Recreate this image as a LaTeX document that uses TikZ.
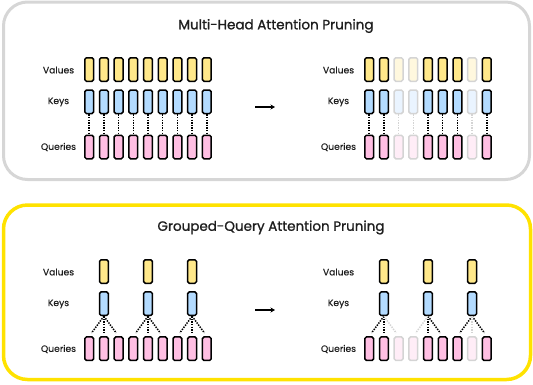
\documentclass[tikz,border=0pt]{standalone}
\usepackage{fontspec}
\setmainfont{Poppins}
\newfontfamily\ttlfont{Poppins}[FakeBold=1.2]
\newfontfamily\lblfont{Poppins}[FakeBold=0.4]
\usetikzlibrary{arrows.meta}
\definecolor{vfill}{HTML}{FFE88A}
\definecolor{kfill}{HTML}{B3DBFF}
\definecolor{qfill}{HTML}{FFBFE3}
\definecolor{vfade}{HTML}{FFF8DE}
\definecolor{kfade}{HTML}{EAF4FF}
\definecolor{qfade}{HTML}{FFEDF7}
\definecolor{fadeline}{HTML}{D4D4D4}
\definecolor{framegray}{HTML}{D6D6D6}
\definecolor{frameyellow}{HTML}{FFE200}
\definecolor{txt}{HTML}{1E1E1E}
\begin{document}
\begin{tikzpicture}[x=1pt,y=-1pt,
  cell/.style={draw=black, line width=1.5pt, rounded corners=1.6pt, minimum width=8.8pt, minimum height=23.5pt, inner sep=0pt},
  vcell/.style={cell, fill=vfill},
  kcell/.style={cell, fill=kfill},
  qcell/.style={cell, fill=qfill},
  vfaded/.style={cell, draw=fadeline, fill=vfade},
  kfaded/.style={cell, draw=fadeline, fill=kfade},
  qfaded/.style={cell, draw=fadeline, fill=qfade},
  dotline/.style={line width=1.5pt, dash pattern=on 1.4pt off 1.2pt, draw=black},
  dotfade/.style={dotline, draw=fadeline},
  lbl/.style={font=\lblfont\fontsize{9.2}{11}\selectfont, text=txt},
  ttl/.style={font=\ttlfont\fontsize{13.5}{16}\selectfont, text=txt},
  arr/.style={-{Stealth[length=4.5pt,width=5pt]}, line width=1.8pt}
]
\useasboundingbox (0,0) rectangle (533,384);
% frames
\draw[framegray, line width=3pt, rounded corners=24pt] (3.5,2) rectangle (529.5,179.5);
\draw[frameyellow, line width=3.5pt, rounded corners=24pt] (3.5,205) rectangle (530.5,379.5);
% titles
\node[ttl] (title1) at (276,26) {Multi-Head Attention Pruning};
\node[ttl] (title2) at (271,227.5) {Grouped-Query Attention Pruning};

% ---------- top left ----------
\node[lbl] (lv1) at (58.5,70) {Values};
\node[lbl] (lk1) at (58.5,102) {Keys};
\node[lbl] (lq1) at (58.5,147) {Queries};
\foreach \i in {0,...,8}{
  \node[vcell] (av\i) at ({89.2+14.7*\i},69.5) {};
  \node[kcell] (ak\i) at ({89.2+14.7*\i},101.8) {};
  \node[qcell] (aq\i) at ({89.2+14.7*\i},147) {};
  \draw[dotline] (ak\i.south) -- (aq\i.north);
}
\coordinate (ta1) at (255,107);
\coordinate (ta2) at (275,107);
\draw[arr] (ta1) -- (ta2);

% ---------- top right ----------
\node[lbl] (lv2) at (338.5,70) {Values};
\node[lbl] (lk2) at (338.5,102) {Keys};
\node[lbl] (lq2) at (338.5,147) {Queries};
\foreach \i in {0,1,4,5,6,8}{
  \node[vcell] (bv\i) at ({369.2+14.7*\i},69.5) {};
  \node[kcell] (bk\i) at ({369.2+14.7*\i},101.8) {};
  \node[qcell] (bq\i) at ({369.2+14.7*\i},147) {};
  \draw[dotline] (bk\i.south) -- (bq\i.north);
}
\foreach \i in {2,3,7}{
  \node[vfaded] (bv\i) at ({369.2+14.7*\i},69.5) {};
  \node[kfaded] (bk\i) at ({369.2+14.7*\i},101.8) {};
  \node[qfaded] (bq\i) at ({369.2+14.7*\i},147) {};
  \draw[dotfade] (bk\i.south) -- (bq\i.north);
}

% ---------- bottom left ----------
\node[lbl] (lv3) at (58.5,272) {Values};
\node[lbl] (lk3) at (58.5,304) {Keys};
\node[lbl] (lq3) at (58.5,349) {Queries};
\foreach \i in {0,...,8}{
  \node[qcell] (cq\i) at ({89.2+14.7*\i},348.7) {};
}
\foreach \k in {1,4,7}{
  \node[vcell] (cv\k) at ({89.2+14.7*\k},271.5) {};
  \node[kcell] (ck\k) at ({89.2+14.7*\k},303.7) {};
}
\foreach \k/\a/\b in {1/0/2,4/3/5,7/6/8}{
  \draw[dotline, shorten >=4pt] (ck\k.south) -- (cq\a.north);
  \draw[dotline, shorten >=4pt] (ck\k.south) -- (cq\k.north);
  \draw[dotline, shorten >=4pt] (ck\k.south) -- (cq\b.north);
}
\coordinate (ba1) at (255,310);
\coordinate (ba2) at (275,310);
\draw[arr] (ba1) -- (ba2);

% ---------- bottom right ----------
\node[lbl] (lv4) at (338.5,272) {Values};
\node[lbl] (lk4) at (338.5,304) {Keys};
\node[lbl] (lq4) at (338.5,349) {Queries};
\foreach \i in {0,1,4,5,6,8}{
  \node[qcell] (dq\i) at ({369.2+14.7*\i},348.7) {};
}
\foreach \i in {2,3,7}{
  \node[qfaded] (dq\i) at ({369.2+14.7*\i},348.7) {};
}
\foreach \k in {1,4,7}{
  \node[vcell] (dv\k) at ({369.2+14.7*\k},271.5) {};
  \node[kcell] (dk\k) at ({369.2+14.7*\k},303.7) {};
}
\foreach \k/\q in {1/0,1/1,4/4,4/5,7/6,7/8}{
  \draw[dotline, shorten >=4pt] (dk\k.south) -- (dq\q.north);
}
\foreach \k/\q in {1/2,4/3,7/7}{
  \draw[dotfade, shorten >=4pt] (dk\k.south) -- (dq\q.north);
}
\end{tikzpicture}
\end{document}
